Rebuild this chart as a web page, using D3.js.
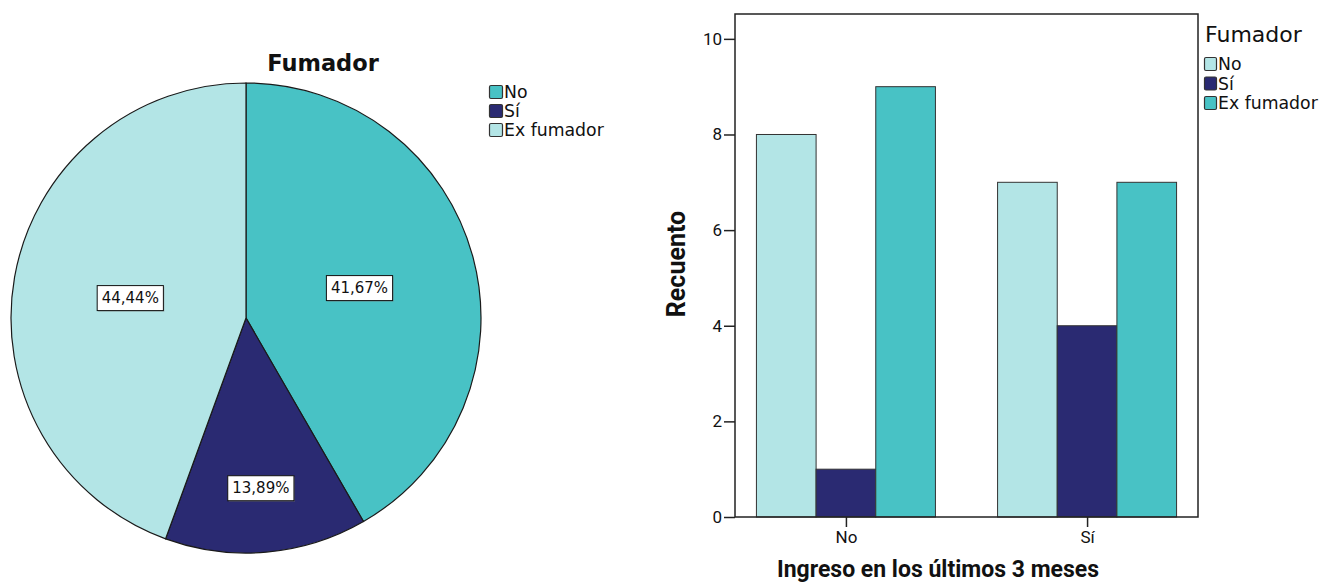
<!DOCTYPE html>
<html><head><meta charset="utf-8">
<script src="https://cdn.jsdelivr.net/npm/d3@7"></script>
<style>
body{margin:0;background:#fff;}
svg{display:block;font-family:"DejaVu Sans",sans-serif;}
</style></head><body>
<svg id="c" width="1323" height="584"></svg>
<script>
// ---- data ----
const smokerCats = ["No", "Sí", "Ex fumador"];
const pieCounts = [15, 5, 16];
const ingresoCats = ["No", "Sí"];
const countsIngresoNo = [8, 1, 9];
const countsIngresoSi = [7, 4, 7];
const yTicks = [0, 2, 4, 6, 8, 10];
const pieTitle = "Fumador";
const xTitle = "Ingreso en los últimos 3 meses";
const yTitle = "Recuento";

const teal = "#48C2C5", navy = "#2A2A72", light = "#B3E5E6";
const pieColors = d3.scaleOrdinal().domain(smokerCats).range([teal, navy, light]);
const barColors = d3.scaleOrdinal().domain(smokerCats).range([light, navy, teal]);

const svg = d3.select("#c");

// ---- pie ----
const cx = 246, cy = 318, R = 235;
const total = d3.sum(pieCounts);
const pie = d3.pie().sort(null).value(d => d.v);
const arcs = pie(smokerCats.map((c, i) => ({c, v: pieCounts[i]})));
const arc = d3.arc().innerRadius(0).outerRadius(R);
const pg = svg.append("g").attr("transform", `translate(${cx},${cy})`);
pg.selectAll("path").data(arcs).join("path")
  .attr("d", arc).attr("fill", d => pieColors(d.data.c))
  .attr("stroke", "#1a1a1a").attr("stroke-width", 1.2);

const fmt = v => (v / total * 100).toFixed(2).replace(".", ",") + "%";
arcs.forEach(a => {
  const mid = (a.startAngle + a.endAngle) / 2;
  const frac = (a.endAngle - a.startAngle) / (2 * Math.PI);
  const r = frac < 0.2 ? R * 0.725 : R * 0.5;
  const x = Math.sin(mid) * r, y = -Math.cos(mid) * r;
  const g = pg.append("g").attr("transform", `translate(${x},${y})`);
  const t = g.append("text").attr("text-anchor", "middle").attr("dy", "0.35em")
    .attr("font-size", 15).attr("fill", "#111").text(fmt(a.data.v));
  const w = t.node().getComputedTextLength() + 9;
  g.insert("rect", "text").attr("x", -w / 2 + 1).attr("y", -12 + 1).attr("width", w).attr("height", 25)
    .attr("fill", "#888").attr("opacity", 0.5);
  g.insert("rect", "text").attr("x", -w / 2).attr("y", -12).attr("width", w).attr("height", 25)
    .attr("fill", "#fff").attr("stroke", "#111").attr("stroke-width", 1);
});

svg.append("text").attr("x", 323).attr("y", 71).attr("text-anchor", "middle")
  .attr("font-size", 22.5).attr("font-weight", "bold").attr("fill", "#111").text(pieTitle);

// pie legend
const pl = svg.append("g").attr("transform", "translate(489,92)");
smokerCats.forEach((c, i) => {
  const g = pl.append("g").attr("transform", `translate(0,${i * 19})`);
  g.append("rect").attr("x", 0.5).attr("y", -6.5).attr("width", 13).attr("height", 13).attr("rx", 1.5)
    .attr("fill", pieColors(c)).attr("stroke", "#333").attr("stroke-width", 1.2);
  g.append("text").attr("x", 15).attr("dy", "0.36em").attr("font-size", 17.3).attr("fill", "#111").text(c);
});

// ---- bar chart ----
const L = 735, Rt = 1198, T = 14, B = 517;
const y = d3.scaleLinear().domain([0, 10.52]).range([B, T]);
const x = d3.scalePoint().domain(ingresoCats).range([L, Rt]).padding(0.46);
const inner = d3.scaleBand().domain(smokerCats).range([-89.5, 89.5]);
const rows = [countsIngresoNo, countsIngresoSi];

const bg = svg.append("g");
ingresoCats.forEach((cat, gi) => {
  smokerCats.forEach((s, si) => {
    const v = rows[gi][si];
    bg.append("rect")
      .attr("x", x(cat) + inner(s)).attr("width", inner.bandwidth())
      .attr("y", y(v)).attr("height", y(0) - y(v))
      .attr("fill", barColors(s)).attr("stroke", "#333").attr("stroke-width", 1);
  });
});

// frame
svg.append("rect").attr("x", L).attr("y", T).attr("width", Rt - L).attr("height", B - T)
  .attr("fill", "none").attr("stroke", "#222").attr("stroke-width", 1.5);

const ya = svg.append("g").attr("transform", `translate(${L},0)`)
  .call(d3.axisLeft(y).tickValues(yTicks).tickSize(11).tickPadding(2).tickFormat(d3.format("d")));
ya.select(".domain").remove();
ya.selectAll("line").attr("stroke", "#222").attr("stroke-width", 1.5);
ya.selectAll("text").attr("font-size", 17).attr("fill", "#111").attr("font-family", "Roboto");

const xa = svg.append("g").attr("transform", `translate(0,${B})`)
  .call(d3.axisBottom(x).tickSize(10).tickPadding(4));
xa.select(".domain").remove();
xa.selectAll("line").attr("stroke", "#222").attr("stroke-width", 1.5);
xa.selectAll("text").attr("font-size", 17).attr("fill", "#111").attr("font-family", "Roboto");

svg.append("text").attr("x", 938).attr("y", 577).attr("text-anchor", "middle")
  .attr("font-size", 23).attr("font-weight", "bold").attr("font-family", "Roboto").attr("fill", "#111").text(xTitle);
svg.append("text").attr("transform", "translate(685,264) rotate(-90)").attr("text-anchor", "middle")
  .attr("font-size", 25).attr("font-weight", "bold").attr("font-family", "Roboto").attr("fill", "#111").text(yTitle);

// bar legend
svg.append("text").attr("x", 1205).attr("y", 42).attr("font-size", 22).attr("fill", "#111").text("Fumador");
const bl = svg.append("g").attr("transform", "translate(1204,64)");
smokerCats.forEach((c, i) => {
  const g = bl.append("g").attr("transform", `translate(0,${i * 19.5})`);
  g.append("rect").attr("x", 0.5).attr("y", -6.5).attr("width", 12).attr("height", 13).attr("rx", 1.5)
    .attr("fill", barColors(c)).attr("stroke", "#333").attr("stroke-width", 1.2);
  g.append("text").attr("x", 14).attr("dy", "0.36em").attr("font-size", 17.3).attr("fill", "#111").text(c);
});
</script>
</body></html>
